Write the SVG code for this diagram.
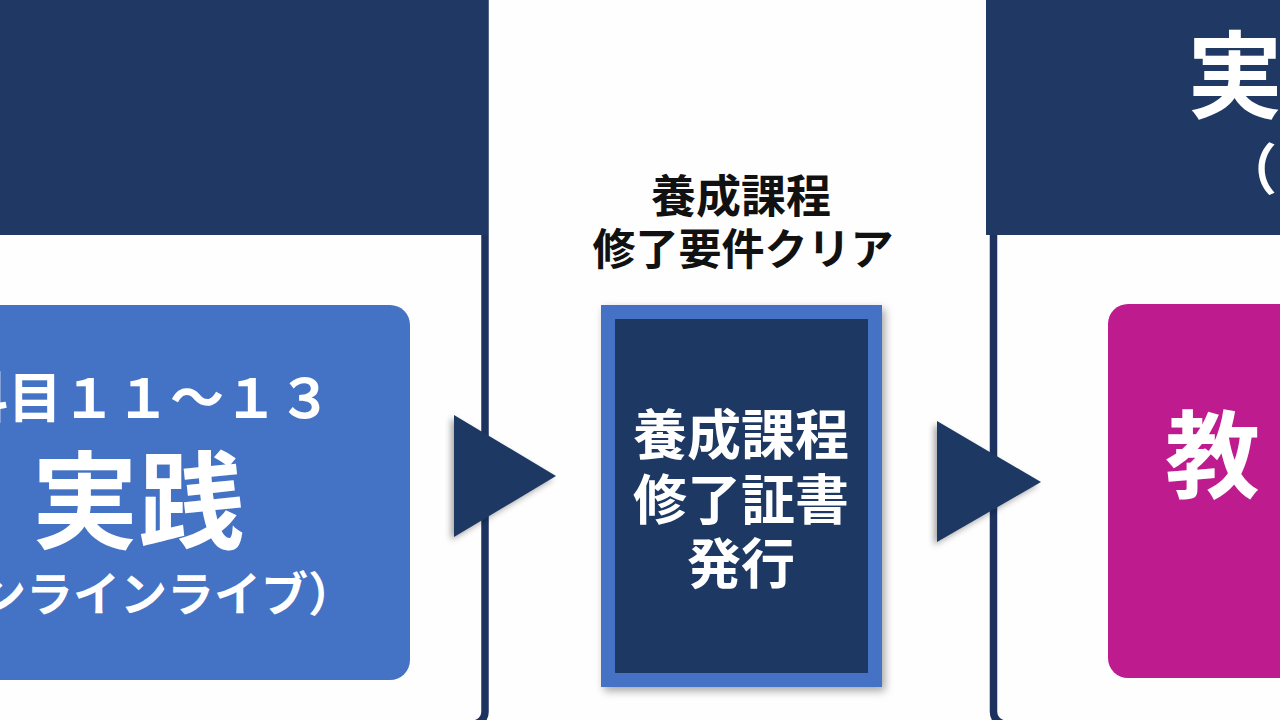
<svg xmlns="http://www.w3.org/2000/svg" width="1280" height="720" viewBox="0 0 1280 720">
  <defs>
    <style>
      .jp { font-family: "Noto Sans CJK JP", "Noto Sans CJK SC", sans-serif; font-weight: bold; }
      .w { fill: #ffffff; }
      .k { fill: #111111; }
      .navy { fill: #1F3864; }
      .panel { fill: #FDFEFD; stroke: #1C3360; stroke-width: 7.5; }
    </style>
    <filter id="sh" x="-20%" y="-20%" width="140%" height="140%">
      <feDropShadow dx="3" dy="4" stdDeviation="4" flood-color="#000" flood-opacity="0.35"/>
    </filter>
    <filter id="ash" x="-30%" y="-30%" width="160%" height="160%">
      <feDropShadow dx="-3" dy="3" stdDeviation="3" flood-color="#000" flood-opacity="0.35"/>
    </filter>
  </defs>

  <rect x="0" y="0" width="1280" height="720" fill="#FDFEFD"/>

  <g id="panel-left">
    <rect class="panel" x="-30" y="-30" width="515" height="754" rx="12"/>
    <rect class="navy" x="-30" y="-30" width="518" height="265"/>
  </g>

  <g id="panel-right">
    <rect class="panel" x="993.5" y="-30" width="330" height="754" rx="12"/>
    <rect class="navy" x="986" y="-30" width="320" height="265"/>
    <text class="jp w" x="1235" y="111" font-size="95" text-anchor="middle">実</text>
    <text class="jp w" x="1222" y="189" font-size="55">（</text>
  </g>

  <g id="box-practice">
    <rect x="-140" y="305" width="550" height="375" rx="20" fill="#4472C4"/>
    <text class="jp w" x="143" y="418" font-size="54" text-anchor="middle">科目１１～１３</text>
    <text class="jp w" x="138" y="540" font-size="106" text-anchor="middle">実践</text>
    <text class="jp w" x="120" y="611" font-size="47" text-anchor="middle">（オンラインライブ）</text>
  </g>

  <g id="label-requirement">
    <text class="jp k" x="741" y="213" font-size="45" text-anchor="middle">養成課程</text>
    <text class="jp k" x="743" y="265" font-size="43" text-anchor="middle">修了要件クリア</text>
  </g>

  <g id="card-certificate">
    <rect x="608" y="312" width="267" height="368" fill="#1F3864" stroke="#4472C4" stroke-width="14" filter="url(#sh)"/>
    <text class="jp w" x="741" y="455" font-size="54" text-anchor="middle">養成課程</text>
    <text class="jp w" x="741" y="520" font-size="54" text-anchor="middle">修了証書</text>
    <text class="jp w" x="741" y="584" font-size="54" text-anchor="middle">発行</text>
  </g>

  <g id="box-teacher">
    <rect x="1108" y="304" width="220" height="374" rx="20" fill="#BE1B8F"/>
    <text class="jp w" x="1165" y="491" font-size="95">教</text>
  </g>

  <g id="connectors">
    <polygon class="navy" points="454,415 556,476 454,537" filter="url(#ash)"/>
    <polygon class="navy" points="937,421 1041,482 937,542" filter="url(#ash)"/>
  </g>
</svg>
